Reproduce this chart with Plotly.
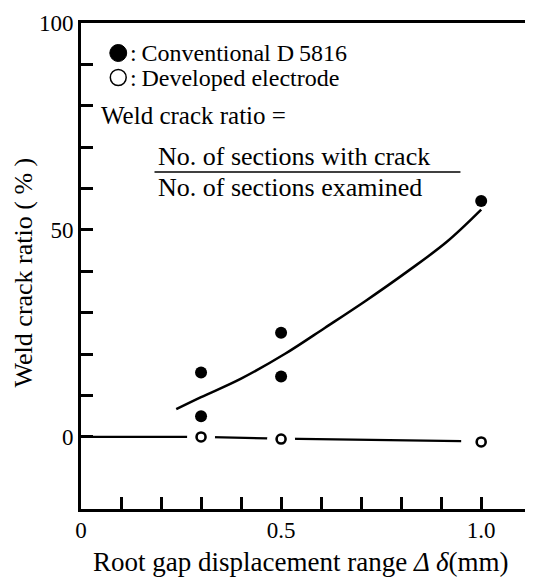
import plotly.graph_objects as go

# ---- data ----
conv_x = [0.3, 0.3, 0.5, 0.5, 1.0]
conv_y = [15.6, 5.0, 25.2, 14.6, 57.0]

dev_x = [0.3, 0.5, 1.0]
dev_y = [0.0, -0.5, -1.2]

# hand-drawn trend curve for conventional electrode
curve_x = [0.238, 0.30, 0.40, 0.51, 0.61, 0.71, 0.816, 0.915, 1.0]
curve_y = [6.7, 9.6, 14.1, 20.1, 26.4, 32.8, 40.0, 47.2, 54.9]

# trend line for developed electrode
dev_line_x = [0.0, 0.3, 0.5, 0.95]
dev_line_y = [0.0, 0.0, -0.4, -1.0]

x_tickvals = [0, 0.1, 0.2, 0.3, 0.4, 0.5, 0.6, 0.7, 0.8, 0.9, 1.0]
x_ticktext = ["0", "", "", "", "", "0.5", "", "", "", "", "1.0"]
y_tickvals = [0, 10, 20, 30, 40, 50, 60, 70, 80, 90, 100]
y_ticktext = ["0", "", "", "", "", "50", "", "", "", "", "100"]

SERIF = "Liberation Serif"

fig = go.Figure()
fig.add_trace(go.Scatter(x=curve_x, y=curve_y, mode="lines",
                         line=dict(color="black", width=2.5, shape="spline"),
                         hoverinfo="skip"))
fig.add_trace(go.Scatter(x=dev_line_x, y=dev_line_y, mode="lines",
                         line=dict(color="black", width=2.2),
                         hoverinfo="skip"))
# white halo to break the line around the open circles
fig.add_trace(go.Scatter(x=dev_x, y=dev_y, mode="markers",
                         marker=dict(size=28, color="white", line=dict(width=0)),
                         hoverinfo="skip"))
fig.add_trace(go.Scatter(x=dev_x, y=dev_y, mode="markers",
                         marker=dict(size=9, color="white", symbol="circle",
                                     line=dict(color="black", width=2.6))))
fig.add_trace(go.Scatter(x=conv_x, y=conv_y, mode="markers",
                         marker=dict(size=12, color="black", line=dict(width=0))))

# plot area in page px: x 81..531, y 23..509 (page has an 8px body margin)
def px(xp):
    return (xp - 81) / 450.0

def py(yp):
    return (509 - yp) / 486.0

def txt(x, y, s, size=23, anchor="left", angle=0):
    return dict(x=px(x), y=py(y), text=s, xref="paper", yref="paper", showarrow=False,
                font=dict(family=SERIF, size=size, color="black"),
                xanchor=anchor, yanchor="middle", textangle=angle)

ann = [
    txt(128, 53, ":\u2009Conventional D\u20095816", size=24),
    txt(128, 78, ":\u2009Developed electrode", size=24),
    txt(99, 115, "Weld crack ratio =", size=25),
    txt(157, 157, "No. of sections with crack", size=26),
    txt(157, 187, "No. of sections examined", size=26),
    txt(23, 272, "Weld crack ratio ( % )", size=26, anchor="center", angle=-90),
    txt(302, 562, "Root gap displacement range <i>Δ δ</i>(mm)", size=27, anchor="center"),
]

shapes = [
    dict(type="line", xref="paper", yref="paper",
         x0=px(155), x1=px(463), y0=py(172), y1=py(172),
         line=dict(color="black", width=1.5)),
    dict(type="circle", xref="paper", yref="paper",
         x0=px(110), x1=px(127), y0=py(61.5), y1=py(44.5),
         fillcolor="black", line=dict(color="black", width=1)),
    dict(type="circle", xref="paper", yref="paper",
         x0=px(110.5), x1=px(126.5), y0=py(85.5), y1=py(69.5),
         fillcolor="white", line=dict(color="black", width=1.5)),
]

fig.update_layout(
    width=525, height=577,
    margin=dict(l=73, r=2, t=15, b=76),
    paper_bgcolor="white", plot_bgcolor="white",
    showlegend=False,
    annotations=ann,
    shapes=shapes,
)
fig.update_xaxes(range=[0, 1.117], showgrid=False, zeroline=False,
                 showline=True, linecolor="black", linewidth=2.8, mirror=True,
                 ticks="inside", ticklen=12, tickwidth=2.5, tickcolor="black",
                 tickvals=x_tickvals, ticktext=x_ticktext, ticklabelstandoff=-2,
                 tickfont=dict(family=SERIF, size=23, color="black"))
fig.update_yaxes(range=[-17.4, 100], showgrid=False, zeroline=False,
                 showline=True, linecolor="black", linewidth=2.8, mirror=True,
                 ticks="inside", ticklen=12, tickwidth=2.5, tickcolor="black",
                 tickvals=y_tickvals, ticktext=y_ticktext,
                 tickfont=dict(family=SERIF, size=23, color="black"))

fig.write_html("out.html")
